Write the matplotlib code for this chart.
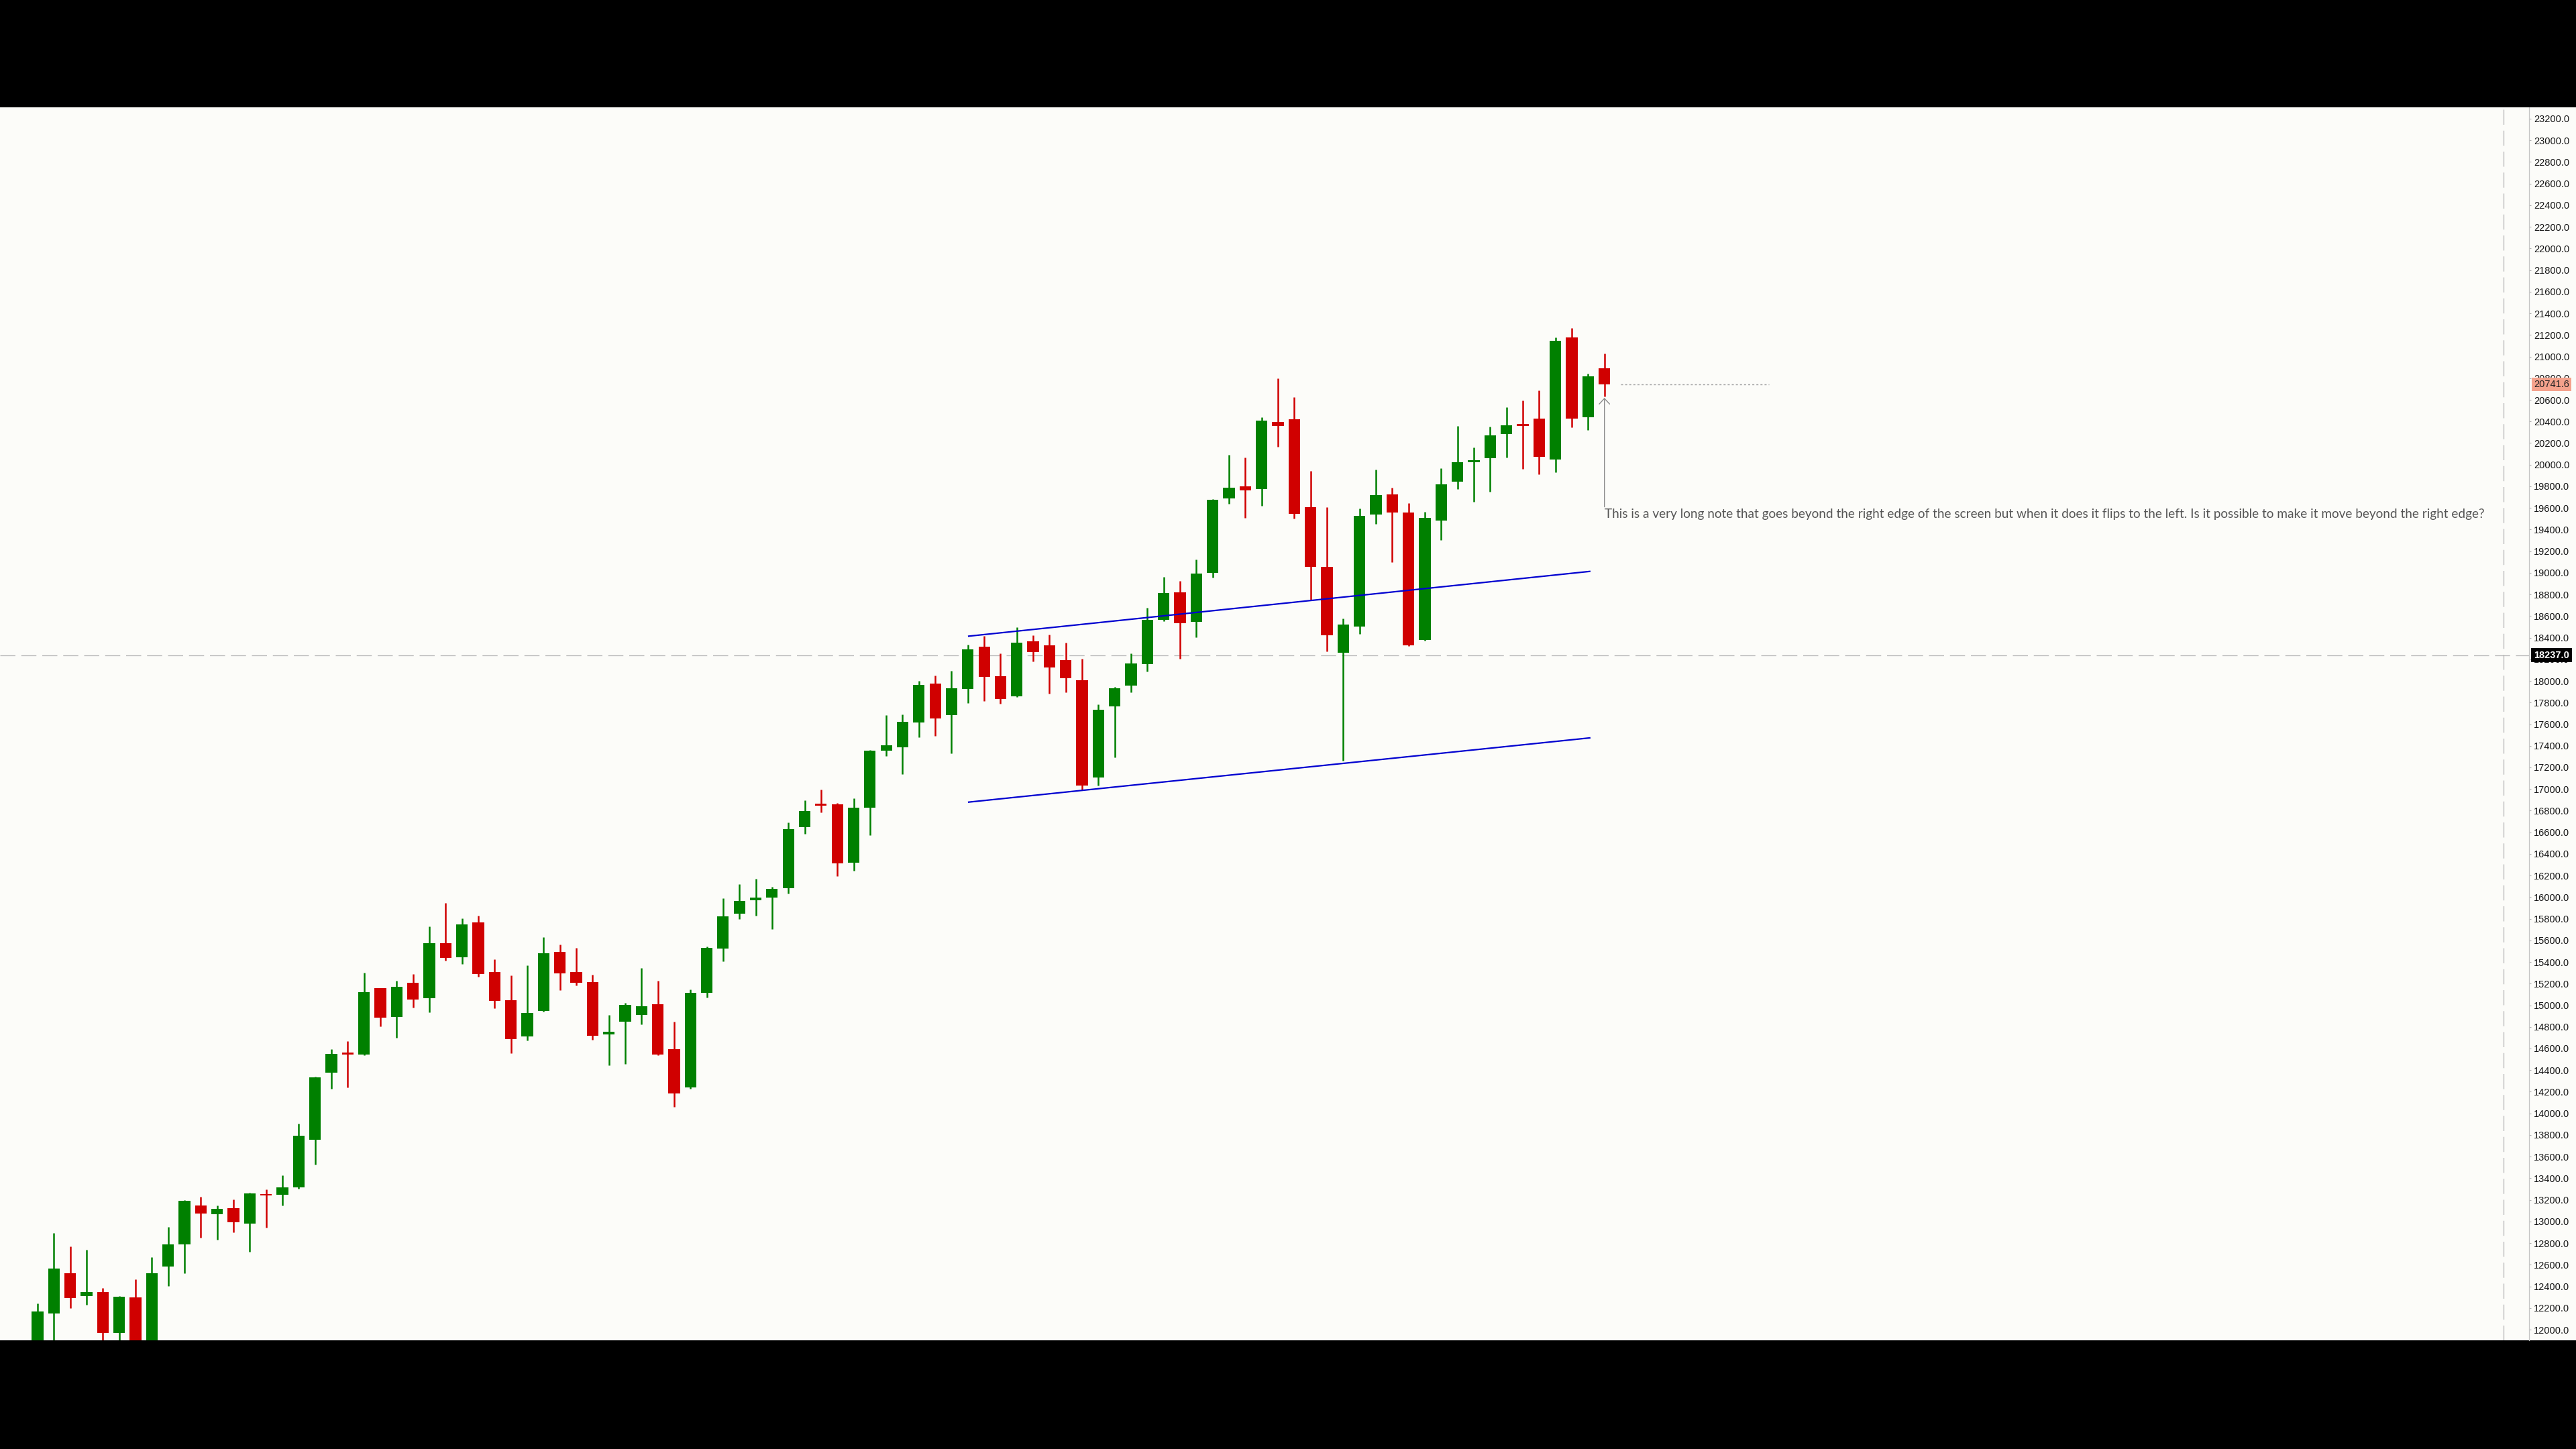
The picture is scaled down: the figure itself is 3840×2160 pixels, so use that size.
import matplotlib
matplotlib.use("Agg")
import matplotlib.pyplot as plt
import numpy as np
from matplotlib.patches import Rectangle

# ---------------- data ----------------
opens = [11850, 12151, 12520, 12312, 12346, 11971, 12298, 11880, 12581, 12789,
         13148, 13068, 13124, 12982, 13255, 13249, 13318, 13756, 14377, 14560,
         14542, 15156, 14893, 15208, 15063, 15574, 15446, 15766, 15305, 15047,
         14712, 14945, 15493, 15305, 15214, 14728, 14846, 14908, 15011, 14594,
         14238, 15116, 15526, 15845, 15972, 15997, 16083, 16649, 16865, 16858,
         16318, 16826, 17355, 17386, 17614, 17975, 17684, 17924, 18317, 18042,
         17856, 18368, 18327, 18193, 18006, 17107, 17763, 17955, 18155, 18562,
         18820, 18547, 18997, 19686, 19800, 19777, 20395, 20423, 19610, 19056,
         18263, 18503, 19542, 19727, 19560, 18377, 19486, 19845, 20021, 20058,
         20282, 20379, 20424, 20048, 21179, 20441, 20892]
highs = [12242, 12894, 12769, 12741, 12382, 12310, 12465, 12672, 12949, 13195,
         13226, 13150, 13204, 13265, 13296, 13428, 13905, 14340, 14594, 14670,
         15301, 15160, 15225, 15290, 15729, 15946, 15804, 15828, 15425, 15274,
         15367, 15628, 15560, 15533, 15281, 14913, 15020, 15342, 15224, 14851,
         15146, 15545, 15987, 16122, 16171, 16095, 16691, 16895, 16993, 16870,
         16912, 17360, 17684, 17690, 18000, 18052, 18093, 18337, 18418, 18255,
         18497, 18420, 18430, 18352, 18203, 17783, 17944, 18255, 18677, 18959,
         18922, 19124, 19680, 20091, 20066, 20441, 20796, 20626, 19940, 19605,
         18580, 19592, 19955, 19788, 19643, 19562, 19965, 20358, 20158, 20352,
         20534, 20592, 20685, 21179, 21264, 20844, 21030]
lows = [11780, 11850, 12201, 12230, 11850, 11870, 11850, 11850, 12403, 12520,
        12853, 12830, 12900, 12720, 12941, 13150, 13300, 13528, 14226, 14240,
        14538, 14805, 14701, 14980, 14935, 15415, 15384, 15266, 14970, 14556,
        14676, 14940, 15140, 15183, 14679, 14446, 14458, 14821, 14540, 14059,
        14230, 15072, 15408, 15796, 15828, 15702, 16036, 16588, 16782, 16193,
        16245, 16573, 17303, 17136, 17479, 17490, 17328, 17797, 17814, 17789,
        17850, 18182, 17880, 17897, 16991, 17034, 17293, 17897, 18089, 18555,
        18205, 18402, 18955, 19636, 19509, 19618, 20163, 19504, 18749, 18276,
        17262, 18435, 19453, 19098, 18325, 18370, 19301, 19773, 19655, 19752,
        20068, 19961, 19913, 19930, 20344, 20323, 20633]
closes = [12168, 12562, 12290, 12346, 11966, 12304, 11880, 12520, 12789, 13190,
          13074, 13116, 12991, 13260, 13245, 13318, 13794, 14333, 14550, 14545,
          15121, 14887, 15173, 15053, 15574, 15439, 15750, 15287, 15039, 14687,
          14929, 15483, 15297, 15207, 14716, 14758, 15003, 14993, 14544, 14184,
          15113, 15533, 15825, 15967, 15999, 16078, 16630, 16796, 16846, 16315,
          16826, 17355, 17405, 17622, 17965, 17655, 17934, 18294, 18036, 17835,
          18352, 18269, 18124, 18025, 17034, 17732, 17934, 18160, 18565, 18812,
          18536, 18990, 19676, 19788, 19765, 20408, 20360, 19547, 19053, 18423,
          18521, 19529, 19719, 19555, 18332, 19509, 19821, 20021, 20043, 20271,
          20364, 20358, 20073, 21144, 20426, 20819, 20741.6]

# channel (trend) lines, x in bar-index units
channel_x = [57.05, 95.1]
channel_upper = [18414, 19013]
channel_lower = [16879, 17473]

# crosshair
crosshair_price = 18237.0
crosshair_index = 151.1

# dashed last-price line span (bar-index units)
close_line_span = [97.0, 106.1]

# note
note_text = ("This is a very long note that goes beyond the right edge of the screen "
             "but when it does it flips to the left. Is it possible to make it move "
             "beyond the right edge?")
note_price = 19540
note_arrow_price = 20619

ytick_values = list(range(12000, 23400, 200))
ytick_labels = [f"{v:.1f}" for v in ytick_values]

# ---------------- style ----------------
BG = "#fcfcf9"
GREEN = "#008000"
RED = "#d00000"
W, H = 3840, 2160
PLOT_TOP, PLOT_BOTTOM, PLOT_RIGHT = 160, 1998, 3770
BAR_STEP = 24.33
FIRST_BAR_X = 56

fig = plt.figure(figsize=(W / 100, H / 100), dpi=100, facecolor="black")
fig.patches.append(Rectangle((0, 1 - PLOT_BOTTOM / H), 1, (PLOT_BOTTOM - PLOT_TOP) / H,
                             transform=fig.transFigure, facecolor=BG,
                             edgecolor="none", zorder=-5))

ax = fig.add_axes([0, 1 - PLOT_BOTTOM / H, PLOT_RIGHT / W, (PLOT_BOTTOM - PLOT_TOP) / H])
ax.set_facecolor(BG)

xleft = -FIRST_BAR_X / BAR_STEP
ax.set_xlim(xleft, xleft + PLOT_RIGHT / BAR_STEP)
px_per_unit = 0.161161
ax.set_ylim(23200 - (PLOT_BOTTOM - 177) / px_per_unit, 23200 + (177 - PLOT_TOP) / px_per_unit)

o = np.array(opens, dtype=float)
c = np.array(closes, dtype=float)
hi = np.array(highs, dtype=float)
lo = np.array(lows, dtype=float)
x = np.arange(len(o))
cols = [GREEN if cc >= oo else RED for oo, cc in zip(o, c)]

# crosshair lines
ax.axhline(crosshair_price, color="#b4b4b4", lw=0.9, ls=(0, (18, 7)), zorder=1)
ax.axvline(crosshair_index, color="#b4b4b4", lw=0.9, ls=(0, (18, 7)), zorder=1)

# candles
ax.vlines(x, lo, hi, colors=cols, lw=1.8, zorder=3)
body = np.where(np.abs(c - o) < 12, np.sign(c - o + 1e-9) * 12, c - o)
ax.bar(x, body, bottom=o, width=0.71, color=cols, linewidth=0, zorder=4)

# channel
ax.plot(channel_x, channel_upper, color="#0000d0", lw=1.6, zorder=5)
ax.plot(channel_x, channel_lower, color="#0000d0", lw=1.6, zorder=5)

# last price dashed line
ax.plot(close_line_span, [closes[-1], closes[-1]], color="#a0a0a0", lw=1.0,
        ls=(0, (2.2, 2.2)), zorder=2)

# note with arrow
ax.annotate(note_text, xy=(len(closes) - 1, note_arrow_price),
            xytext=(len(closes) - 1, note_price), ha="left", va="center",
            fontsize=13.7, family="Lato", color="#555555",
            arrowprops=dict(arrowstyle="->,head_length=0.3,head_width=0.28",
                            color="#8a8a8a", lw=1.0, relpos=(0, 1),
                            shrinkA=0, shrinkB=0, mutation_scale=20),
            annotation_clip=False, zorder=6)

# axis
for s in ["top", "left", "bottom"]:
    ax.spines[s].set_visible(False)
ax.spines["right"].set_color("#c4c4c4")
ax.spines["right"].set_linewidth(0.9)
ax.set_xticks([])
ax.yaxis.tick_right()
ax.set_yticks(ytick_values)
ax.set_yticklabels(ytick_labels, family="Liberation Sans")
ax.tick_params(axis="y", direction="out", length=2.5, width=0.8, color="#b0b0b0",
               pad=2.5, labelsize=10.5, labelcolor="#151515")

# price labels on axis
trans = ax.get_yaxis_transform()
ax.text(1 + 7 / PLOT_RIGHT, closes[-1], f"{closes[-1]:.1f}", transform=trans,
        ha="left", va="center", fontsize=10.5, family="Liberation Sans", color="#222222",
        bbox=dict(boxstyle="square,pad=0.2", fc="#f4a28c", ec="none"), zorder=10)
ax.text(1 + 7 / PLOT_RIGHT, crosshair_price, f"{crosshair_price:.1f}", transform=trans,
        ha="left", va="center", fontsize=10.5, family="Liberation Sans", color="white",
        fontweight="bold",
        bbox=dict(boxstyle="square,pad=0.25", fc="black", ec="none"), zorder=10)

fig.savefig("out.png", dpi=100, facecolor=fig.get_facecolor())
